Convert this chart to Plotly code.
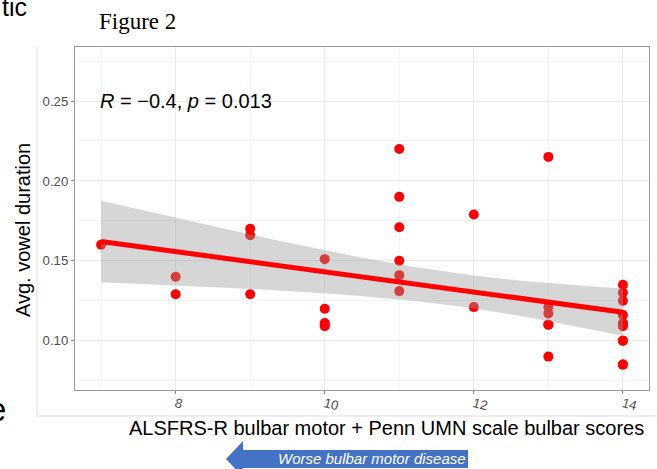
import numpy as np
import plotly.graph_objects as go

# Combined ALSFRS-R bulbar motor + Penn UMN bulbar score per participant
score = [7,
         8, 8,
         9, 9, 9,
         10, 10, 10, 10, 10,
         11, 11, 11, 11, 11, 11,
         12, 12,
         13, 13, 13, 13, 13, 13,
         14, 14, 14, 14, 14, 14, 14, 14, 14, 14, 14, 14]

# Average vowel duration (s) per participant
duration = [0.160,
            0.140, 0.129,
            0.170, 0.166, 0.129,
            0.151, 0.120, 0.111, 0.110, 0.109,
            0.220, 0.190, 0.171, 0.150, 0.141, 0.131,
            0.179, 0.121,
            0.215, 0.121, 0.117, 0.110, 0.110, 0.090,
            0.135, 0.130, 0.125, 0.116, 0.111, 0.110, 0.110, 0.109, 0.100, 0.100, 0.085, 0.085]

x_ticks = [8, 10, 12, 14]
y_ticks = [0.10, 0.15, 0.20, 0.25]
cor_label = "<i>R</i> = \u22120.4, <i>p</i> = 0.013"
x_title = "ALSFRS-R bulbar motor + Penn UMN scale bulbar scores"
y_title = "Avg. vowel duration"
arrow_text = "Worse bulbar motor disease"

# ---- linear fit with 95% confidence band (as geom_smooth(method = "lm")) ----
x = np.array(score, dtype=float)
y = np.array(duration, dtype=float)
n = len(x)
slope, intercept = np.polyfit(x, y, 1)
xs = np.linspace(x.min(), x.max(), 80)
fit = intercept + slope * xs
resid = y - (intercept + slope * x)
s = np.sqrt(np.sum(resid ** 2) / (n - 2))
sxx = np.sum((x - x.mean()) ** 2)
T_975 = 2.030  # two-sided 95% t quantile, 35 degrees of freedom
half = T_975 * s * np.sqrt(1.0 / n + (xs - x.mean()) ** 2 / sxx)
lower, upper = fit - half, fit + half

# ---- page geometry (pixels) ----
W_PX, H_PX = 657, 469
L, R, T, B = 75, 649, 47, 390


def px(v):
    return (v - L) / (R - L)


def py(v):
    return (B - v) / (B - T)


SANS = "Liberation Sans, Arial, sans-serif"

fig = go.Figure()

fig.add_trace(go.Scatter(
    x=score, y=duration, mode="markers",
    marker=dict(color="#FF0000", size=10, line=dict(width=0)),
    showlegend=False, hoverinfo="x+y"))

fig.add_trace(go.Scatter(
    x=xs, y=lower, mode="lines", line=dict(width=0),
    showlegend=False, hoverinfo="skip"))
fig.add_trace(go.Scatter(
    x=xs, y=upper, mode="lines", line=dict(width=0),
    fill="tonexty", fillcolor="rgba(153,153,153,0.4)",
    showlegend=False, hoverinfo="skip"))

fig.add_trace(go.Scatter(
    x=xs, y=fit, mode="lines", line=dict(color="#FF0000", width=5),
    showlegend=False, hoverinfo="skip"))

grid_major = "#EBEBEB"
grid_minor = "#F5F5F5"
axis_common = dict(
    showline=True, mirror=True, linecolor="#9A9A9A", linewidth=1.2,
    ticks="outside", ticklen=3, tickwidth=1, tickcolor="#8A8A8A",
    showgrid=True, gridcolor=grid_major, gridwidth=1.1,
    zeroline=False,
    tickfont=dict(family=SANS, size=13.2, color="#4D4D4D"),
)

fig.update_xaxes(
    range=[6.65, 14.35], tickmode="array", tickvals=x_ticks,
    ticktext=[str(v) for v in x_ticks], tickangle=15,
    ticklabelstandoff=-3,
    minor=dict(tickmode="array", tickvals=[7, 9, 11, 13], showgrid=True,
               gridcolor=grid_minor, gridwidth=0.8, ticks=""),
    **axis_common)
fig.update_yaxes(
    range=[0.0691, 0.2838], tickmode="array", tickvals=y_ticks,
    ticktext=[f"{v:.2f}" for v in y_ticks],
    minor=dict(tickmode="array", tickvals=[0.075, 0.125, 0.175, 0.225, 0.275],
               showgrid=True, gridcolor=grid_minor, gridwidth=0.8, ticks=""),
    **axis_common)

annotations = [
    dict(x=7, y=0.25, xref="x", yref="y", text=cor_label, showarrow=False,
         xanchor="left", yanchor="middle", xshift=-3,
         font=dict(family=SANS, size=20, color="#000000")),
    dict(x=px(386.5), y=py(428), xref="paper", yref="paper", text=x_title,
         showarrow=False, xanchor="center", yanchor="middle",
         font=dict(family=SANS, size=20, color="#000000")),
    dict(x=px(23), y=py(230), xref="paper", yref="paper", text=y_title,
         showarrow=False, xanchor="center", yanchor="middle", textangle=-90,
         font=dict(family=SANS, size=20, color="#000000")),
    dict(x=px(137), y=py(22), xref="paper", yref="paper", text="Figure 2",
         showarrow=False, xanchor="center", yanchor="middle",
         font=dict(family="Liberation Serif, Times New Roman, serif", size=23, color="#000000")),
    dict(x=px(29), y=py(7), xref="paper", yref="paper", text="tic",
         showarrow=False, xanchor="right", yanchor="middle",
         font=dict(family=SANS, size=25, color="#000000")),
    dict(x=px(8), y=py(409), xref="paper", yref="paper", text="e",
         showarrow=False, xanchor="right", yanchor="middle",
         font=dict(family=SANS, size=33, color="#000000")),
    dict(x=px(468), y=py(458), xref="paper", yref="paper",
         text=f"<i>{arrow_text}</i>", showarrow=False,
         xanchor="right", yanchor="middle",
         font=dict(family=SANS, size=15, color="#FFFFFF")),
]

# block arrow pointing left (toward lower scores)
arrow_pts = [(226, 459), (243, 441), (243, 450), (468, 450),
             (468, 468), (243, 468), (243, 477)]
arrow_path = "M " + " L ".join(f"{px(a):.5f},{py(b):.5f}" for a, b in arrow_pts) + " Z"

shapes = [
    # light frame of the embedded figure
    dict(type="line", xref="paper", yref="paper",
         x0=px(37), x1=px(37), y0=py(47), y1=py(416),
         line=dict(color="#DEDEDE", width=1)),
    dict(type="line", xref="paper", yref="paper",
         x0=px(37), x1=px(657), y0=py(416), y1=py(416),
         line=dict(color="#DEDEDE", width=1)),
    dict(type="path", xref="paper", yref="paper", path=arrow_path,
         fillcolor="#4472C4", line=dict(width=0), layer="below"),
]

fig.update_layout(
    width=W_PX, height=H_PX,
    margin=dict(l=L, r=W_PX - R, t=T, b=H_PX - B, pad=0),
    paper_bgcolor="#FFFFFF", plot_bgcolor="#FFFFFF",
    template="none",
    showlegend=False,
    annotations=annotations,
    shapes=shapes,
)

fig.write_html("out.html")
